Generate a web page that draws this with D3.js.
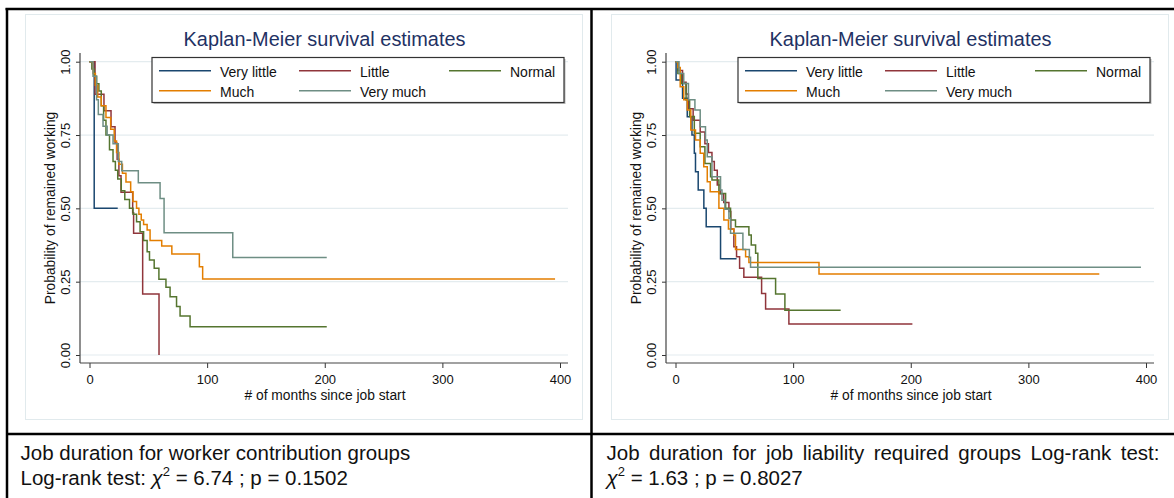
<!DOCTYPE html>
<html>
<head>
<meta charset="utf-8">
<script src="https://cdn.jsdelivr.net/npm/d3@7"></script>
<style>
  body { margin: 0; background: #fff; }
  svg { display: block; font-family: "Liberation Sans", Arial, sans-serif; }
</style>
</head>
<body>
<script>
// groups, colours and ticks shared by both charts
const groups = ["Very little", "Little", "Normal", "Much", "Very much"];
const groupColors = ["#1a476f", "#90353b", "#55752f", "#e37e00", "#6e8e84"];
const xTicks = [0, 100, 200, 300, 400];
const yTicks = [0, 0.25, 0.5, 0.75, 1];

// worker contribution groups: [months, survival]
const wcVeryLittle = [[0,1],[4,0.5],[24,0.5]];
const wcLittle = [[0,1],[4.7,0.889],[12.3,0.833],[18.3,0.778],[21.7,0.722],[23.5,0.667],[25,0.611],[26.8,0.555],[36.7,0.485],[37.5,0.415],[45.2,0.208],[59.1,0]];
const wcNormal = [[0,1],[2,0.975],[4,0.95],[6,0.925],[8,0.9],[10,0.85],[12,0.8],[14,0.75],[17,0.7],[20,0.66],[22,0.63],[24,0.6],[27,0.56],[30,0.53],[34,0.5],[37,0.48],[40,0.454],[43,0.42],[46,0.39],[49,0.352],[51,0.324],[55,0.296],[59,0.258],[65,0.231],[68.5,0.199],[74,0.165],[77,0.133],[85.5,0.096],[201.7,0.096]];
const wcMuch = [[0,1],[3,0.96],[5,0.92],[7,0.88],[10,0.85],[14,0.81],[18,0.77],[21,0.73],[23,0.69],[25,0.65],[28,0.62],[31,0.59],[35,0.557],[37,0.523],[40,0.5],[42,0.48],[44,0.46],[46,0.445],[49,0.426],[51.5,0.39],[61.4,0.372],[70,0.344],[93.4,0.301],[96.2,0.259],[395.8,0.259]];
const wcVeryMuch = [[0,1],[3,0.95],[6,0.87],[7.5,0.82],[11.5,0.78],[15,0.75],[20,0.72],[24.5,0.66],[27.4,0.628],[41.5,0.587],[60,0.534],[63.4,0.417],[121.8,0.332],[201.7,0.332]];

// job liability required groups
const jlVeryLittle = [[0,1],[0.5,0.9375],[6,0.875],[10,0.8125],[14,0.75],[16,0.6875],[17,0.625],[19.3,0.5625],[24.1,0.5],[26.1,0.4375],[38.3,0.328],[51.9,0.328]];
const jlLittle = [[0,1],[2,0.97],[6,0.93],[9,0.89],[11,0.84],[15,0.8],[21,0.76],[25,0.72],[28,0.69],[31,0.66],[33,0.63],[35.5,0.58],[38,0.55],[41,0.52],[45.4,0.489],[47,0.43],[49.6,0.369],[51.9,0.335],[54.5,0.296],[58.1,0.265],[73.2,0.21],[76.6,0.157],[96.4,0.106],[201.4,0.106]];
const jlNormal = [[0,1],[2,0.96],[5,0.926],[9,0.869],[12,0.813],[16,0.756],[21,0.71],[25,0.653],[29.8,0.608],[31,0.597],[36.9,0.551],[42.6,0.5],[46.8,0.46],[51,0.4375],[62.4,0.409],[64.4,0.375],[68.1,0.347],[70,0.261],[85.1,0.208],[93,0.153],[140.4,0.153]];
const jlMuch = [[0,1],[2,0.98],[4,0.915],[7,0.87],[10,0.835],[13,0.767],[17,0.733],[21,0.688],[24,0.642],[27,0.591],[29.5,0.557],[36.9,0.5],[41.1,0.46],[45,0.43],[49.6,0.409],[51,0.36],[59.6,0.335],[62.4,0.315],[122,0.276],[360.3,0.276]];
const jlVeryMuch = [[0,1],[3,0.96],[7,0.926],[11,0.87],[16.5,0.835],[21,0.778],[25.5,0.733],[27,0.676],[31,0.608],[38.3,0.5625],[39.5,0.528],[42,0.497],[45.4,0.466],[46.8,0.415],[57.3,0.36],[62.8,0.333],[63.8,0.299],[395.7,0.299]];

const chartTitle = "Kaplan-Meier survival estimates";
const xTitle = "# of months since job start";
const yTitle = "Probability of remained working";

var svg = d3.select("body").append("svg")
  .attr("width", 1174)
  .attr("height", 498);

function drawPanel(off, series, caption, justifyTo) {
  var g = svg.append("g").attr("transform", "translate(" + off + ",0)");

  // light graph region border
  g.append("rect")
    .attr("x", 25.5).attr("y", 14.5)
    .attr("width", 557).attr("height", 405)
    .attr("fill", "none")
    .attr("stroke", "#e1eaed");

  var x = d3.scaleLinear().domain([0, 400]).range([89.5, 560]);
  var y = d3.scaleLinear().domain([0, 1]).range([355, 61.7]);

  // grid lines
  g.append("g").selectAll("line")
    .data(yTicks)
    .enter().append("line")
    .attr("x1", 80).attr("x2", 568)
    .attr("y1", d => y(d)).attr("y2", d => y(d))
    .attr("stroke", "#e4ecef")
    .attr("stroke-width", 1.2);

  // x axis
  var xa = g.append("g")
    .attr("transform", "translate(0,363)")
    .call(d3.axisBottom(x).tickValues(xTicks).tickSize(5).tickPadding(7).tickFormat(d3.format("d")));
  xa.select(".domain").remove();
  xa.selectAll("line").attr("stroke", "#333");
  xa.selectAll("text").style("font-size", "13px").attr("fill", "#111");
  g.append("line")
    .attr("x1", 80).attr("x2", 568).attr("y1", 363).attr("y2", 363)
    .attr("stroke", "#444").attr("stroke-width", 1.2);

  // y axis
  var ya = g.append("g")
    .attr("transform", "translate(80,0)")
    .call(d3.axisLeft(y).tickValues(yTicks).tickSize(4).tickFormat(d3.format(".2f")));
  ya.select(".domain").remove();
  ya.selectAll("line").attr("stroke", "#333");
  ya.selectAll("text")
    .attr("x", 0).attr("dy", null)
    .attr("transform", "translate(-9.7,0) rotate(-90)")
    .attr("text-anchor", "middle")
    .style("font-size", "13px")
    .attr("fill", "#111");
  g.append("line")
    .attr("x1", 80).attr("x2", 80).attr("y1", 53).attr("y2", 363)
    .attr("stroke", "#444").attr("stroke-width", 1.2);

  // axis titles
  g.append("text")
    .attr("x", 325).attr("y", 400)
    .attr("text-anchor", "middle")
    .style("font-size", "13.8px")
    .attr("fill", "#111")
    .text(xTitle);
  g.append("text")
    .attr("transform", "translate(54.5,208) rotate(-90)")
    .attr("text-anchor", "middle")
    .style("font-size", "13.8px")
    .attr("fill", "#111")
    .text(yTitle);

  // title
  g.append("text")
    .attr("x", 324.5).attr("y", 45.5)
    .attr("text-anchor", "middle")
    .style("font-size", "19.9px")
    .attr("fill", "#1f3264")
    .text(chartTitle);

  // survival curves
  var line = d3.line()
    .x(d => x(d[0]))
    .y(d => y(d[1]))
    .curve(d3.curveStepAfter);
  series.forEach(function(s, i) {
    g.append("path")
      .datum(s)
      .attr("d", line)
      .attr("fill", "none")
      .attr("stroke", groupColors[i])
      .attr("stroke-width", 1.5);
  });

  // legend
  var lg = g.append("g");
  lg.append("rect")
    .attr("x", 153.5).attr("y", 59)
    .attr("width", 412).attr("height", 45)
    .attr("fill", "#b8b8b8");
  lg.append("rect")
    .attr("x", 152).attr("y", 57.5)
    .attr("width", 412).attr("height", 45)
    .attr("fill", "#fff")
    .attr("stroke", "#333")
    .attr("stroke-width", 1.2);
  var keyX = [159, 299, 449];
  var textX = [220, 360, 510];
  groups.forEach(function(name, i) {
    var col = i % 3, row = Math.floor(i / 3);
    var ly = 70.7 + row * 20;
    lg.append("line")
      .attr("x1", keyX[col]).attr("x2", keyX[col] + 52)
      .attr("y1", ly).attr("y2", ly)
      .attr("stroke", groupColors[i])
      .attr("stroke-width", 1.5);
    lg.append("text")
      .attr("x", textX[col]).attr("y", ly + 6)
      .style("font-size", "14px")
      .attr("fill", "#111")
      .text(name);
  });

  // caption cell
  caption.forEach(function(parts, row) {
    var t = svg.append("text")
      .attr("x", off + 20.5).attr("y", 460 + row * 25)
      .style("font-size", "20.5px")
      .attr("fill", "#111");
    parts.forEach(function(p) {
      if (p === "chi") {
        t.append("tspan").style("font-style", "italic").text("\u03c7");
        t.append("tspan").attr("dy", -9).style("font-size", "13px").text("2");
        t.append("tspan").attr("dy", 9).text("\u00a0");
      } else {
        t.append("tspan").text(p);
      }
    });
    // justified first line in the right cell
    if (row === 0 && justifyTo) {
      var len = t.node().getComputedTextLength();
      var gaps = parts.join("").split(" ").length - 1;
      t.style("word-spacing", Math.max(0, (justifyTo - len) / gaps) + "px");
    }
  });
}

drawPanel(0, [wcVeryLittle, wcLittle, wcNormal, wcMuch, wcVeryMuch],
  [["Job duration for worker contribution groups"], ["Log-rank test: ", "chi", "= 6.74 ; p = 0.1502"]], null);
drawPanel(586, [jlVeryLittle, jlLittle, jlNormal, jlMuch, jlVeryMuch],
  [["Job duration for job liability required groups Log-rank test:"], ["chi", "= 1.63 ; p = 0.8027"]], 553);

// table borders
var borders = [
  [5.5, 9, 1174, 9],
  [7, 8, 7, 498],
  [591.5, 8, 591.5, 498],
  [7, 434, 1174, 434]
];
svg.append("g").selectAll("line")
  .data(borders)
  .enter().append("line")
  .attr("x1", d => d[0]).attr("y1", d => d[1])
  .attr("x2", d => d[2]).attr("y2", d => d[3])
  .attr("stroke", "#000")
  .attr("stroke-width", 2.5);
</script>
</body>
</html>
